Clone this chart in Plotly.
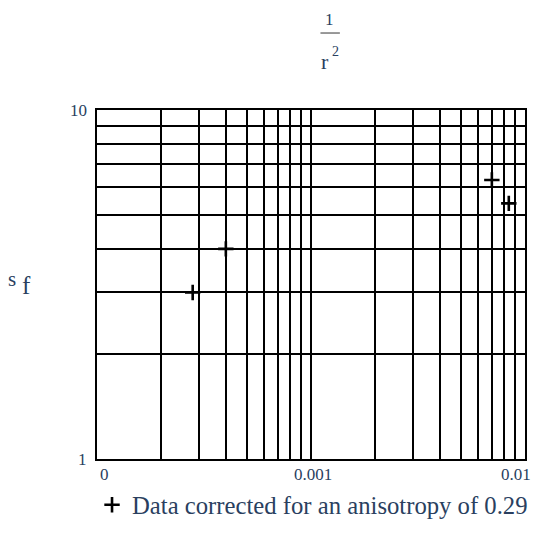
import math
import plotly.graph_objects as go

# Measured stress factor against inverse squared radius
inv_r2 = [2.8e-4, 4.0e-4, 7.0e-3, 8.4e-3]
s_f = [3.0, 4.0, 6.3, 5.4]
series_name = "Data corrected for an anisotropy of 0.29"

x_ticks = [1e-4, 1e-3, 1e-2]
x_tick_text = ["0", "0.001", "0.01"]
y_ticks = [1, 10]
y_tick_text = ["1", "10"]

# figure geometry (pixels)
W, H = 534, 535
L, R, T, B = 97, 7, 110, 70
PW, PH = W - L - R, H - T - B

SERIF = "Liberation Serif, Times New Roman, serif"

# grid at every 1..9 multiple within each decade
x_grid = [m * 10 ** e for e in (-4, -3) for m in range(1, 10)] + [1e-2]
y_grid = list(range(1, 11))


def px(xp):
    return (xp - L) / PW


def py(yp):
    return (H - B - yp) / PH


fig = go.Figure()
fig.add_trace(go.Scatter(
    x=inv_r2, y=s_f, mode="markers", name=series_name,
    marker=dict(symbol="cross-thin", size=11, color="black",
                line=dict(color="black", width=2.6)),
))

axis_common = dict(
    type="log", showticklabels=False, ticks="",
    showgrid=True, gridcolor="black", gridwidth=1.8,
    showline=True, linecolor="black", linewidth=2.2, mirror=True,
    zeroline=False, tickmode="array",
)
fig.update_xaxes(range=[-4, -2], tickvals=x_grid, **axis_common)
fig.update_yaxes(range=[0, 1], tickvals=y_grid, **axis_common)

ann = []
# x tick labels
x_shift = [7, 2, -9]
for v, t, s in zip(x_ticks, x_tick_text, x_shift):
    ann.append(dict(x=math.log10(v), xref="x", y=0, yref="paper",
                    text=t, showarrow=False, xanchor="center", yanchor="top",
                    xshift=s, yshift=-4, font=dict(size=17, family=SERIF)))
# y tick labels
for v, t in zip(y_ticks, y_tick_text):
    ann.append(dict(x=0, xref="paper", y=math.log10(v), yref="y",
                    text=t, showarrow=False, xanchor="right", yanchor="middle",
                    xshift=-8, font=dict(size=17, family=SERIF)))

# title: 1 over r squared
ann.append(dict(x=px(331), y=py(17.5), xref="paper", yref="paper", text="1",
                showarrow=False, xanchor="center", yanchor="middle",
                font=dict(size=17, family=SERIF)))
ann.append(dict(x=px(326.5), y=py(61), xref="paper", yref="paper", text="r",
                showarrow=False, xanchor="center", yanchor="middle",
                font=dict(size=22, family=SERIF)))
ann.append(dict(x=px(336.5), y=py(51), xref="paper", yref="paper", text="2",
                showarrow=False, xanchor="center", yanchor="middle",
                font=dict(size=14, family=SERIF)))

# y axis label
ann.append(dict(x=px(11.5), y=py(282), xref="paper", yref="paper", text="s",
                showarrow=False, xanchor="center", yanchor="middle",
                font=dict(size=21, family=SERIF)))
ann.append(dict(x=px(26), y=py(289), xref="paper", yref="paper", text="f",
                showarrow=False, xanchor="center", yanchor="middle",
                font=dict(size=25, family=SERIF)))

fig.update_layout(
    width=W, height=H,
    margin=dict(l=L, r=R, t=T, b=B),
    paper_bgcolor="white", plot_bgcolor="white",
    annotations=ann,
    shapes=[dict(type="line", xref="paper", yref="paper",
                 x0=px(321.5), x1=px(341), y0=py(31.7), y1=py(31.7),
                 line=dict(color="#777777", width=1.5))],
    showlegend=True,
    legend=dict(x=px(92), y=py(512), xanchor="left", yanchor="middle",
                bgcolor="rgba(0,0,0,0)", font=dict(size=24.7, family=SERIF),
                itemwidth=30),
)

fig.write_html("out.html")
